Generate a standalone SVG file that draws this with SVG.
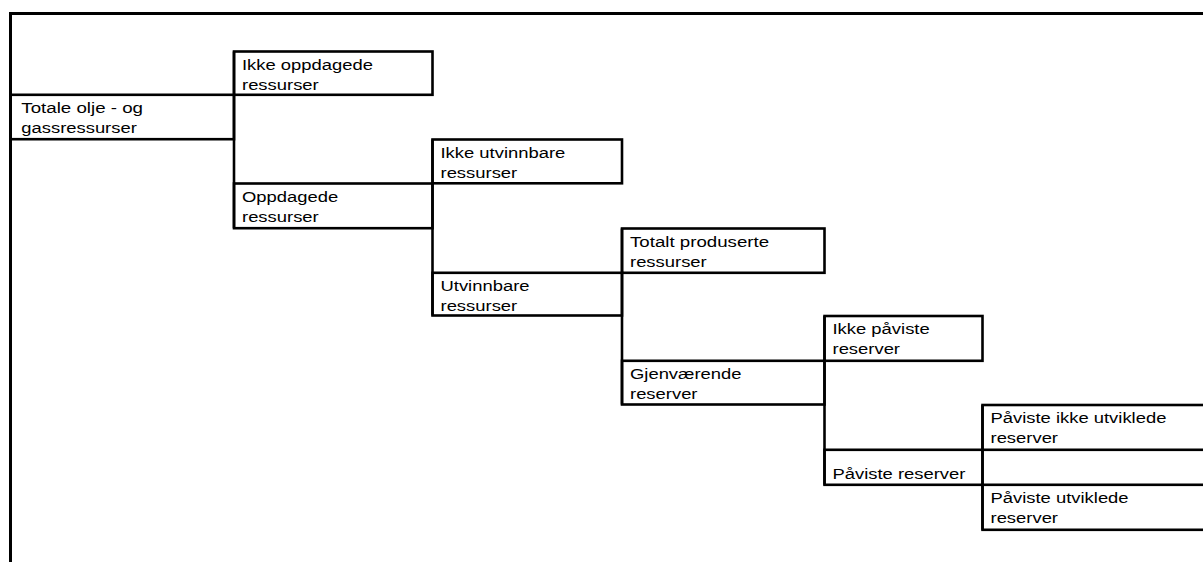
<svg xmlns="http://www.w3.org/2000/svg" width="1203" height="562" viewBox="0 0 1203 562">
<style>
  .box { fill: none; stroke: #000; stroke-width: 2.6; }
  .frame { fill: none; stroke: #000; stroke-width: 3; }
  .conn { fill: none; stroke: #000; stroke-width: 2.6; }
  text { font-family: "Liberation Sans", Arial, sans-serif; font-size: 15.4px; fill: #000; }
</style>
<rect x="0" y="0" width="1203" height="562" fill="#fff"/>
<path class="frame" d="M10.5 562 V13.5 H1203"/>
<g id="connectors">
  <line class="conn" x1="234" y1="51.5" x2="234" y2="228.2"/>
  <line class="conn" x1="432.5" y1="139.5" x2="432.5" y2="315.5"/>
  <line class="conn" x1="622" y1="228.5" x2="622" y2="404.5"/>
  <line class="conn" x1="824.5" y1="316" x2="824.5" y2="484.8"/>
  <line class="conn" x1="982.5" y1="405" x2="982.5" y2="529.8"/>
</g>
<g id="n-totale">
  <rect class="box" x="10.5" y="94.8" width="223.5" height="44.4"/>
  <text x="21.3" y="112.8" textLength="121.7" lengthAdjust="spacingAndGlyphs">Totale olje - og</text>
  <text x="21.3" y="133.1" textLength="115.5" lengthAdjust="spacingAndGlyphs">gassressurser</text>
</g>
<g id="n-ikke-oppdagede">
  <rect class="box" x="234" y="51.5" width="198.5" height="43.3"/>
  <text x="242" y="69.5" textLength="130.9" lengthAdjust="spacingAndGlyphs">Ikke oppdagede</text>
  <text x="242" y="89.8" textLength="76.7" lengthAdjust="spacingAndGlyphs">ressurser</text>
</g>
<g id="n-oppdagede">
  <rect class="box" x="234" y="183.5" width="198.5" height="44.7"/>
  <text x="242" y="201.5" textLength="96.2" lengthAdjust="spacingAndGlyphs">Oppdagede</text>
  <text x="242" y="221.8" textLength="76.7" lengthAdjust="spacingAndGlyphs">ressurser</text>
</g>
<g id="n-ikke-utvinnbare">
  <rect class="box" x="432.5" y="139.5" width="189.5" height="43.8"/>
  <text x="440.5" y="157.5" textLength="124.8" lengthAdjust="spacingAndGlyphs">Ikke utvinnbare</text>
  <text x="440.5" y="177.8" textLength="76.7" lengthAdjust="spacingAndGlyphs">ressurser</text>
</g>
<g id="n-utvinnbare">
  <rect class="box" x="432.5" y="272.8" width="189.5" height="42.7"/>
  <text x="440.5" y="290.8" textLength="89" lengthAdjust="spacingAndGlyphs">Utvinnbare</text>
  <text x="440.5" y="311.1" textLength="76.7" lengthAdjust="spacingAndGlyphs">ressurser</text>
</g>
<g id="n-totalt-produserte">
  <rect class="box" x="622" y="228.5" width="202.5" height="44.3"/>
  <text x="630" y="246.5" textLength="139.1" lengthAdjust="spacingAndGlyphs">Totalt produserte</text>
  <text x="630" y="266.8" textLength="76.7" lengthAdjust="spacingAndGlyphs">ressurser</text>
</g>
<g id="n-gjenvaerende">
  <rect class="box" x="622" y="360.8" width="202.5" height="43.7"/>
  <text x="630" y="378.8" textLength="111.5" lengthAdjust="spacingAndGlyphs">Gjenværende</text>
  <text x="630" y="399.1" textLength="67.5" lengthAdjust="spacingAndGlyphs">reserver</text>
</g>
<g id="n-ikke-paviste">
  <rect class="box" x="824.5" y="316" width="158" height="44.8"/>
  <text x="832.5" y="334" textLength="97.2" lengthAdjust="spacingAndGlyphs">Ikke påviste</text>
  <text x="832.5" y="354.3" textLength="67.5" lengthAdjust="spacingAndGlyphs">reserver</text>
</g>
<g id="n-paviste-reserver">
  <rect class="box" x="824.5" y="449.8" width="158" height="35"/>
  <text x="832.5" y="478.5" textLength="132.9" lengthAdjust="spacingAndGlyphs">Påviste reserver</text>
</g>
<g id="n-paviste-ikke-utviklede">
  <rect class="box" x="982.5" y="405" width="240" height="44.8"/>
  <text x="990.5" y="423" textLength="175.9" lengthAdjust="spacingAndGlyphs">Påviste ikke utviklede</text>
  <text x="990.5" y="443.3" textLength="67.5" lengthAdjust="spacingAndGlyphs">reserver</text>
</g>
<g id="n-paviste-utviklede">
  <rect class="box" x="982.5" y="484.8" width="240" height="45"/>
  <text x="990.5" y="502.8" textLength="138.1" lengthAdjust="spacingAndGlyphs">Påviste utviklede</text>
  <text x="990.5" y="523.1" textLength="67.5" lengthAdjust="spacingAndGlyphs">reserver</text>
</g>
</svg>
